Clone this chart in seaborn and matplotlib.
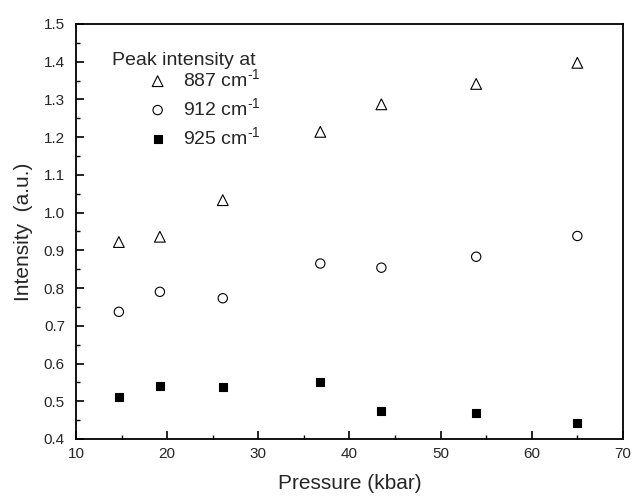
import matplotlib
matplotlib.use("Agg")
import matplotlib.pyplot as plt
import seaborn as sns
import pandas as pd
from matplotlib.ticker import MultipleLocator

pressure = [14.7, 19.2, 26.1, 36.8, 43.5, 53.9, 65.0]
i887 = [0.922, 0.936, 1.033, 1.214, 1.287, 1.341, 1.397]
i912 = [0.737, 0.790, 0.773, 0.865, 0.854, 0.883, 0.938]
i925 = [0.511, 0.541, 0.537, 0.550, 0.475, 0.468, 0.442]
labels = [r"887 cm$^{\text{-1}}$", r"912 cm$^{\text{-1}}$", r"925 cm$^{\text{-1}}$"]

sns.set_theme(style="white")
plt.rcParams["font.family"] = ["Liberation Sans", "DejaVu Sans"]
plt.rcParams["mathtext.fontset"] = "custom"
plt.rcParams["mathtext.rm"] = "Liberation Sans"
plt.rcParams["mathtext.it"] = "Liberation Sans"

fig = plt.figure(figsize=(6.35, 4.96), dpi=100)
ax = fig.add_axes([0.1197, 0.115, 0.8613, 0.8367])

styles = [
    (i887, "^", "none", 60),
    (i912, "o", "none", 45),
    (i925, "s", "black", 38),
]
for (vals, mk, fc, s), lab in zip(styles, labels):
    df = pd.DataFrame({"Pressure": pressure, "Intensity": vals})
    sns.scatterplot(data=df, x="Pressure", y="Intensity", marker=mk, s=s,
                    facecolor=fc, edgecolor="black", linewidth=0.8,
                    label=lab, ax=ax)

ax.set_xlim(10, 70)
ax.set_ylim(0.4, 1.5)
ax.xaxis.set_major_locator(MultipleLocator(10))
ax.xaxis.set_minor_locator(MultipleLocator(5))
ax.yaxis.set_major_locator(MultipleLocator(0.1))
ax.yaxis.set_minor_locator(MultipleLocator(0.05))
ax.yaxis.set_major_formatter(plt.FuncFormatter(lambda v, p: f"{v:.1f}"))
ax.tick_params(which="major", direction="in", length=6, width=1.2,
               labelsize=11, color="black", bottom=True, left=True)
ax.tick_params(axis="y", which="major", pad=8)
ax.tick_params(axis="x", which="major", pad=6)
ax.tick_params(which="minor", direction="in", length=3, width=1.0,
               color="black", bottom=True, left=True)
for sp in ax.spines.values():
    sp.set_color("black")
    sp.set_linewidth(1.3)

ax.set_xlabel("Pressure (kbar)", fontsize=15, labelpad=9)
ax.set_ylabel("Intensity  (a.u.)", fontsize=15, labelpad=8)

ax.text(0.066, 0.913, "Peak intensity at", transform=ax.transAxes,
        fontsize=14, va="center", ha="left")
leg = ax.legend(loc="upper left", bbox_to_anchor=(0.135, 0.893), frameon=False,
                fontsize=14, handlelength=0.8, handletextpad=0.9,
                labelspacing=0.36, borderaxespad=0, borderpad=0)

fig.savefig("out.png", dpi=100)
